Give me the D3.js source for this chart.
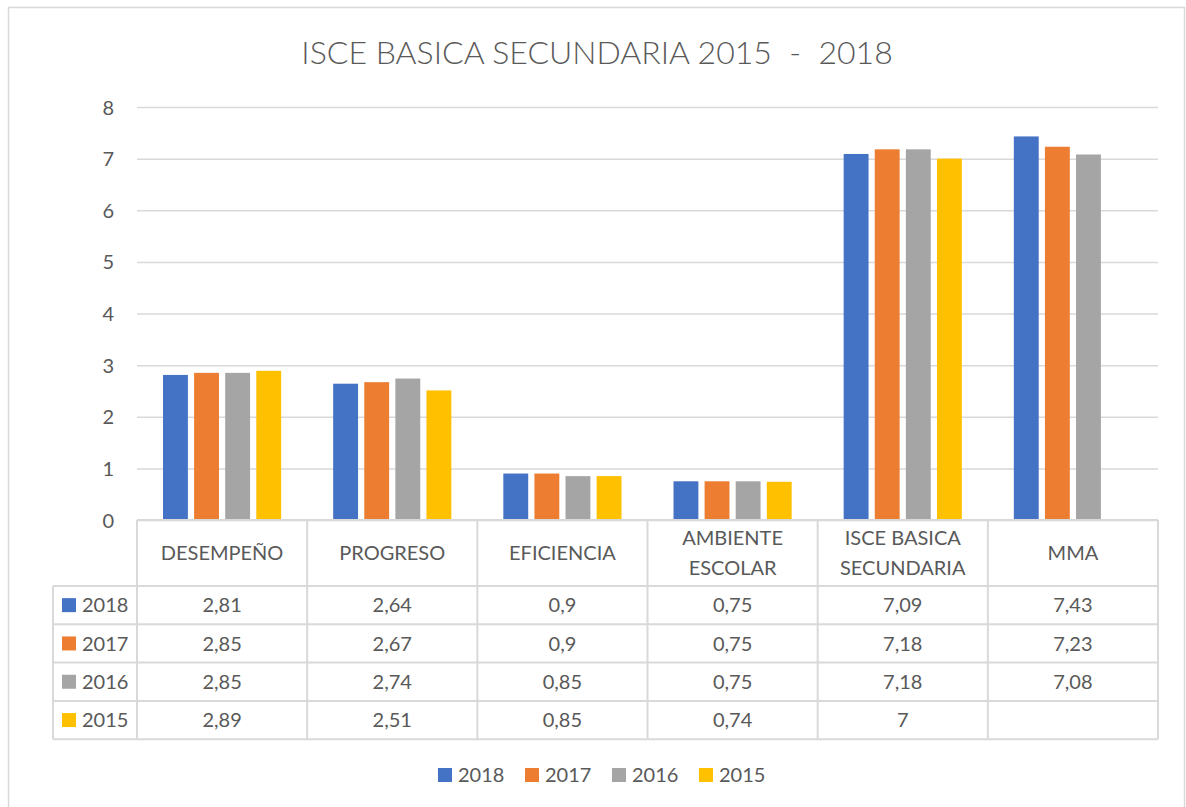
<!DOCTYPE html>
<html>
<head>
<meta charset="utf-8">
<script src="https://cdn.jsdelivr.net/npm/d3@7"></script>
<style>
  body { margin: 0; background: #fff; }
  svg text { font-family: Lato, "Open Sans", sans-serif; fill: #595959; }
</style>
</head>
<body>
<div id="chart"></div>
<script>
// data
var categories = ["DESEMPEÑO", "PROGRESO", "EFICIENCIA", "AMBIENTE ESCOLAR", "ISCE BASICA SECUNDARIA", "MMA"];
var catLines = [["DESEMPEÑO"], ["PROGRESO"], ["EFICIENCIA"], ["AMBIENTE", "ESCOLAR"], ["ISCE BASICA", "SECUNDARIA"], ["MMA"]];
var series = ["2018", "2017", "2016", "2015"];
var v2018 = [2.81, 2.64, 0.9, 0.75, 7.09, 7.43];
var v2017 = [2.85, 2.67, 0.9, 0.75, 7.18, 7.23];
var v2016 = [2.85, 2.74, 0.85, 0.75, 7.18, 7.08];
var v2015 = [2.89, 2.51, 0.85, 0.74, 7, null];
var colors = ["#4472C4", "#ED7D31", "#A5A5A5", "#FFC000"];
var yTicks = [0, 1, 2, 3, 4, 5, 6, 7, 8];
var title = "ISCE BASICA SECUNDARIA 2015  -  2018";

var values = [v2018, v2017, v2016, v2015];

var width = 1186, height = 807;
var plotLeft = 137, plotRight = 1158, plotTop = 107, plotBottom = 520;
var legendColLeft = 53;
var headerBottom = 586, rowH = 38.3;
var gridColor = "#d9d9d9";

var svg = d3.select("#chart").append("svg")
  .attr("width", width)
  .attr("height", height);

// chart area border
svg.append("rect")
  .attr("x", 8.5).attr("y", 7.5)
  .attr("width", 1176).attr("height", 820)
  .attr("fill", "#fff")
  .attr("stroke", gridColor)
  .attr("stroke-width", 1.5);

// title (keep the double spaces)
svg.append("text")
  .attr("x", 597).attr("y", 64)
  .attr("text-anchor", "middle")
  .style("font-size", "32px")
  .style("font-weight", 300)
  .style("white-space", "pre")
  .text(title);

var y = d3.scaleLinear().domain([0, 8]).range([plotBottom, plotTop]);
var x0 = d3.scaleBand().domain(categories).range([plotLeft, plotRight]);
var x1 = d3.scaleBand().domain(series).range([26, x0.bandwidth() - 26]).paddingInner(0.2);

// gridlines + y labels
var yAxis = d3.axisLeft(y).tickValues(yTicks).tickSize(-(plotRight - plotLeft)).tickPadding(23);
var gy = svg.append("g").attr("transform", "translate(" + plotLeft + ",0)").call(yAxis);
gy.select(".domain").remove();
gy.selectAll(".tick line").attr("stroke", gridColor).attr("stroke-width", 1.5);
gy.selectAll(".tick text").style("font-size", "20px").attr("fill", "#595959").attr("dy", "0.35em");

// bars
var groups = svg.append("g").selectAll("g")
  .data(categories)
  .enter().append("g")
  .attr("transform", function(d) { return "translate(" + x0(d) + ",0)"; });

groups.selectAll("rect")
  .data(function(c, i) {
    return series.map(function(s, j) { return { s: s, v: values[j][i], c: colors[j] }; })
      .filter(function(d) { return d.v != null; });
  })
  .enter().append("rect")
  .attr("x", function(d) { return x1(d.s); })
  .attr("width", x1.bandwidth())
  .attr("y", function(d) { return y(d.v); })
  .attr("height", function(d) { return plotBottom - y(d.v); })
  .attr("fill", function(d) { return d.c; });

// data table
var table = svg.append("g");
var tableBottom = headerBottom + rowH * series.length;

// axis line on top
table.append("line")
  .attr("x1", plotLeft).attr("x2", plotRight)
  .attr("y1", plotBottom).attr("y2", plotBottom)
  .attr("stroke", gridColor).attr("stroke-width", 2);

// horizontal rules
d3.range(series.length + 1).forEach(function(i) {
  table.append("line")
    .attr("x1", legendColLeft).attr("x2", plotRight)
    .attr("y1", headerBottom + i * rowH).attr("y2", headerBottom + i * rowH)
    .attr("stroke", gridColor).attr("stroke-width", 2);
});

// vertical rules
var colEdges = categories.map(function(c) { return x0(c); }).concat([plotRight]);
colEdges.forEach(function(xx) {
  table.append("line")
    .attr("x1", xx).attr("x2", xx)
    .attr("y1", plotBottom).attr("y2", tableBottom)
    .attr("stroke", gridColor).attr("stroke-width", 2);
});
table.append("line")
  .attr("x1", legendColLeft).attr("x2", legendColLeft)
  .attr("y1", headerBottom).attr("y2", tableBottom)
  .attr("stroke", gridColor).attr("stroke-width", 2);

// category headers
categories.forEach(function(c, i) {
  var lines = catLines[i];
  var cx = x0(c) + x0.bandwidth() / 2;
  var mid = (plotBottom + headerBottom) / 2;
  lines.forEach(function(l, k) {
    table.append("text")
      .attr("x", cx)
      .attr("y", mid + (k - (lines.length - 1) / 2) * 30)
      .attr("dy", "0.36em")
      .attr("text-anchor", "middle")
      .style("font-size", "20px")
      .text(l);
  });
});

// rows
series.forEach(function(s, j) {
  var cy = headerBottom + rowH * j + rowH / 2;
  table.append("rect")
    .attr("x", 62).attr("y", cy - 7)
    .attr("width", 14).attr("height", 14)
    .attr("fill", colors[j]);
  table.append("text")
    .attr("x", 82).attr("y", cy).attr("dy", "0.36em")
    .style("font-size", "20px")
    .text(s);
  categories.forEach(function(c, i) {
    var v = values[j][i];
    if (v == null) return;
    table.append("text")
      .attr("x", x0(c) + x0.bandwidth() / 2)
      .attr("y", cy).attr("dy", "0.36em")
      .attr("text-anchor", "middle")
      .style("font-size", "20px")
      .text(String(v).replace(".", ","));
  });
});

// legend
var legend = svg.append("g").attr("transform", "translate(438,775)");
series.forEach(function(s, j) {
  var g = legend.append("g").attr("transform", "translate(" + (j * 87) + ",0)");
  g.append("rect").attr("x", 0).attr("y", -7).attr("width", 14).attr("height", 14).attr("fill", colors[j]);
  g.append("text").attr("x", 20).attr("y", 0).attr("dy", "0.36em").style("font-size", "20px").text(s);
});
</script>
</body>
</html>
